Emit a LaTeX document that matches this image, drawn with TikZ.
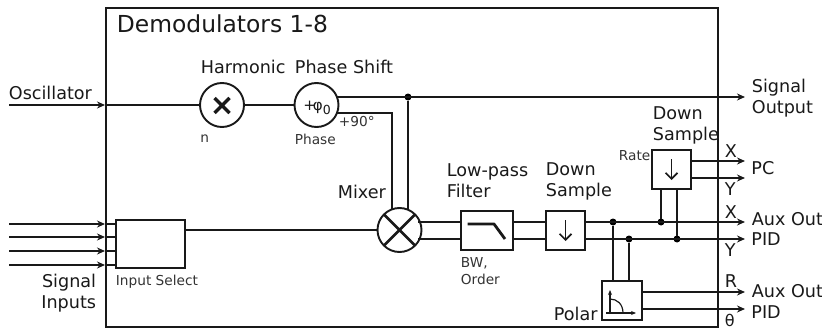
\documentclass[tikz,border=0pt]{standalone}
\usepackage{fontspec}
\setmainfont{DejaVu Sans}
\usetikzlibrary{arrows.meta,calc}
\begin{document}
\begin{tikzpicture}[x=1pt,y=-1pt,line width=1.8pt,
  wire/.style={draw=black!90,line width=1.9pt},
  arr/.style={wire,-{Stealth[length=8pt,width=7pt]}},
  boxn/.style={draw=black!90,line width=1.9pt,fill=white,minimum width=#1,inner sep=0pt,minimum height=39pt,outer sep=0pt},
  circ/.style={draw=black!90,line width=1.9pt,fill=white,circle,minimum size=44pt,inner sep=0pt,outer sep=0pt},
  dotn/.style={circle,fill=black,minimum size=7pt,inner sep=0pt,outer sep=0pt},
  big/.style={inner sep=0pt,xshift=-1pt,text=black!90,font=\fontsize{17.6pt}{21pt}\selectfont,align=left},
  small/.style={inner sep=0pt,xshift=-1pt,text=black!80,font=\fontsize{13.7pt}{16.5pt}\selectfont,align=left},
  title/.style={inner sep=0pt,xshift=-1pt,text=black!90,font=\fontsize{23.4pt}{27pt}\selectfont}]
\useasboundingbox (0,0) rectangle (822,329);
\node[draw=black!90,line width=2pt,outer sep=0pt,minimum width=612pt,minimum height=319pt,inner sep=0pt,anchor=north west] (frame) at (106,8) {};
% coordinates
\coordinate (oscin) at (9,105);
\coordinate (oscout) at (105,105);
\foreach \n/\y in {a/224,b/237,c/251,d/265}{
  \coordinate (in\n) at (9,\y);
  \coordinate (ar\n) at (105,\y);
  \coordinate (st\n) at (116,\y);
}
\node[boxn=69pt,minimum height=48pt,anchor=north west] (sel) at (116,220) {};
\node[circ] (harm) at (222,105) {};
\node[circ] (phase) at (316.5,105) {};
\node[circ] (mix) at (399.5,230) {};
\node[boxn=52pt,anchor=north west] (filt) at (461,211) {};
\node[boxn=39pt,anchor=north west] (down) at (546,211) {};
\node[boxn=39pt,anchor=north west] (rate) at (652,150) {};
\node[boxn=40pt,anchor=north west] (polar) at (602,281) {};
\coordinate (sigout) at (745,97);
\node[dotn] (d0) at (408,97) {};
\node[dotn] (d1) at (613,222) {};
\node[dotn] (d2) at (629,239) {};
\node[dotn] (d3) at (661,222) {};
\node[dotn] (d4) at (677,239) {};
\coordinate (ph0) at (336,97);
\coordinate (ph90) at (336,113);
\coordinate (c90) at (392,113);
\coordinate (m90) at (392,209.5);
\coordinate (m0) at (408,209.5);
\coordinate (mx1) at (418,222);
\coordinate (mx2) at (418,239);
\coordinate (fi1) at (461,222);
\coordinate (fi2) at (461,239);
\coordinate (fo1) at (513,222);
\coordinate (fo2) at (513,239);
\coordinate (di1) at (546,222);
\coordinate (di2) at (546,239);
\coordinate (do1) at (585,222);
\coordinate (do2) at (585,239);
\coordinate (aux1) at (745,222);
\coordinate (aux2) at (745,239);
\coordinate (rb1) at (661,189);
\coordinate (rb2) at (677,189);
\coordinate (po1) at (613,281);
\coordinate (po2) at (629,281);
\coordinate (ro1) at (691,161);
\coordinate (ro2) at (691,178);
\coordinate (pc1) at (745,161);
\coordinate (pc2) at (745,178);
\coordinate (pol1) at (642,292);
\coordinate (pol2) at (642,309);
\coordinate (pa1) at (745,292);
\coordinate (pa2) at (745,309);
% connectors
\draw[arr] (oscin) -- (oscout);
\draw[wire] (oscout) -- (harm.west);
\draw[wire] (harm.east) -- (phase.west);
\foreach \n in {a,b,c,d}{
  \draw[arr] (in\n) -- (ar\n);
  \draw[wire] (ar\n) -- (st\n);
}
\draw[wire] (sel.east |- mix.west) -- (mix.west);
\draw[arr] (ph0) -- (sigout);
\draw[wire] (d0) -- (m0);
\draw[wire] (ph90) -- (c90) -- (m90);
\draw[wire] (mx1) -- (fi1);
\draw[wire] (mx2) -- (fi2);
\draw[wire] (fo1) -- (di1);
\draw[wire] (fo2) -- (di2);
\draw[arr] (do1) -- (aux1);
\draw[arr] (do2) -- (aux2);
\draw[wire] (d1) -- (po1);
\draw[wire] (d2) -- (po2);
\draw[wire] (d3) -- (rb1);
\draw[wire] (d4) -- (rb2);
\draw[arr] (ro1) -- (pc1);
\draw[arr] (ro2) -- (pc2);
\draw[arr] (pol1) -- (pa1);
\draw[arr] (pol2) -- (pa2);
% glyphs
\draw[line width=3.4pt,black!90] (214.5,98) -- (229.5,113) (229.5,98) -- (214.5,113);
\draw[line width=2.6pt,black!90] (mix.45) -- (mix.225) (mix.135) -- (mix.315);
\draw[line width=2.8pt,black!90,line join=round] (467.5,224) -- (494,224) -- (505,239);
\draw[line width=1.7pt,black!90,-{Straight Barb[length=6pt,width=12pt]}] (565.5,220) -- (565.5,241);
\draw[line width=1.7pt,black!90,-{Straight Barb[length=6pt,width=12pt]}] (671.5,159) -- (671.5,180);
\draw[line width=1.2pt,black!90,-{Stealth[length=5pt,width=4pt]}] (610,314) -- (610,290);
\draw[line width=1.2pt,black!90,-{Stealth[length=5pt,width=4pt]}] (606,313) -- (636,313);
\draw[line width=1.2pt,black!90] (610,299) .. controls (617,299) and (623,304) .. (623,313);
% labels
\node[title,anchor=west] (t0) at (117,24) {Demodulators 1-8};
\node[big,anchor=west] (t1) at (9,93) {Oscillator};
\node[big,anchor=west] (t2) at (201,67) {Harmonic};
\node[big,anchor=west] (t3) at (295,67) {Phase Shift};
\node[big,anchor=west] (t4) at (752,98) {Signal\\Output};
\node[small,anchor=west] (t5) at (200.5,139) {n};
\node[small,anchor=west] (t6) at (295,139) {Phase};
\node[small,anchor=west] (t7) at (339,122) {+90°};
\node[inner sep=0pt,text=black!90,font=\fontsize{15pt}{18pt}\selectfont] (t8) at (317,108) {+\kern-3pt φ\raisebox{-4pt}{\fontsize{12.5pt}{14pt}\selectfont 0}};
\node[big,anchor=west] (t10) at (338,192) {Mixer};
\node[big,anchor=west] (t11) at (447,181) {Low-pass\\Filter};
\node[big,anchor=west] (t12) at (546,181) {Down\\Sample};
\node[big,anchor=west] (t13) at (653,125) {Down\\Sample};
\node[small,anchor=west] (t14) at (619,156) {Rate};
\node[small,anchor=west] (t15) at (461,271) {BW,\\Order};
\node[small,anchor=west] (t16) at (116,282) {Input Select};
\node[big,align=right,anchor=east] (t17) at (98,293) {Signal\\Inputs};
\node[big,anchor=west] (t18) at (554,314) {Polar};
\node[big,anchor=west] (t19) at (725,151) {X};
\node[big,anchor=west] (t20) at (725,189) {Y};
\node[big,anchor=west] (t21) at (725,212) {X};
\node[big,anchor=west] (t22) at (725,250) {Y};
\node[big,anchor=west] (t23) at (725,281) {R};
\node[inner sep=0pt,text=black!90,font=\fontsize{16pt}{18pt}\selectfont,anchor=west] (t24) at (724,320) {θ};
\node[big,anchor=west] (t25) at (751.5,168) {PC};
\node[big,anchor=west] (t26) at (752,219) {Aux Out};
\node[big,anchor=west] (t27) at (751.5,239.5) {PID};
\node[big,anchor=west] (t28) at (752,291) {Aux Out};
\node[big,anchor=west] (t29) at (751.5,312) {PID};
\end{tikzpicture}
\end{document}
